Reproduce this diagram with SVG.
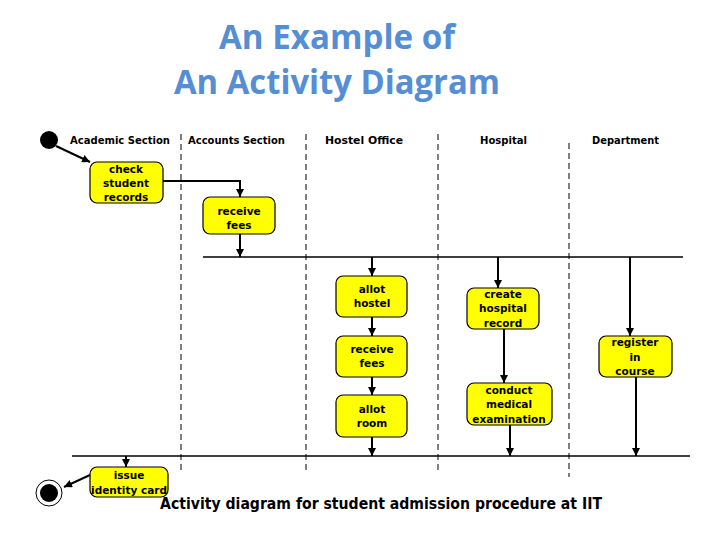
<svg xmlns="http://www.w3.org/2000/svg" width="720" height="540" viewBox="0 0 720 540">
<style>
.title{font-family:"Open Sans","Noto Sans",sans-serif;font-weight:bold;font-size:34px;fill:#558ED5;text-anchor:middle}
.lane{font-family:"DejaVu Sans","Noto Sans",sans-serif;font-weight:bold;font-size:10.5px;fill:#000}
.box{fill:#FFFF00;stroke:#000;stroke-width:1.2}
.bt{font-family:"DejaVu Sans","Noto Sans",sans-serif;font-weight:bold;font-size:10.5px;fill:#000;text-anchor:middle}
.div{stroke:#000;stroke-width:1;stroke-dasharray:6,4;fill:none}
.c{stroke:#000;stroke-width:2;fill:none;marker-end:url(#ah)}
.bar{stroke:#000;stroke-width:1.5}
.cap{font-family:"DejaVu Sans","Noto Sans",sans-serif;font-weight:bold;font-size:15px;fill:#000}
</style>
<defs>
<marker id="ah" viewBox="0 0 10 10" refX="10" refY="5" markerWidth="4" markerHeight="4" orient="auto" markerUnits="strokeWidth">
<path d="M0,0 L10,5 L0,10 z" fill="#000"/>
</marker>
</defs>
<rect width="720" height="540" fill="#fff"/>
<text class="title" x="337" y="49" textLength="236" lengthAdjust="spacingAndGlyphs">An Example of</text>
<text class="title" x="337" y="94" textLength="326" lengthAdjust="spacingAndGlyphs">An Activity Diagram</text>

<g id="lanes">
<line class="div" x1="181" y1="134" x2="181" y2="470"/>
<line class="div" x1="306" y1="134" x2="306" y2="470"/>
<line class="div" x1="438" y1="134" x2="438" y2="470"/>
<line class="div" x1="569" y1="143" x2="569" y2="477"/>
<text class="lane" x="70" y="144" textLength="100" lengthAdjust="spacingAndGlyphs">Academic Section</text>
<text class="lane" x="188" y="144" textLength="97" lengthAdjust="spacingAndGlyphs">Accounts Section</text>
<text class="lane" x="325" y="144" textLength="78" lengthAdjust="spacingAndGlyphs">Hostel Office</text>
<text class="lane" x="480" y="144" textLength="47" lengthAdjust="spacingAndGlyphs">Hospital</text>
<text class="lane" x="592" y="144" textLength="67" lengthAdjust="spacingAndGlyphs">Department</text>
</g>

<g id="bars">
<line class="bar" x1="203" y1="257" x2="683" y2="257"/>
<line class="bar" x1="72" y1="456" x2="690" y2="456"/>
</g>

<g id="start"><circle cx="49" cy="140" r="9" fill="#000"/></g>
<g id="end">
<circle cx="49" cy="493" r="13" fill="#fff" stroke="#000" stroke-width="1"/>
<circle cx="49" cy="493" r="9" fill="#000"/>
</g>

<g id="n-check">
<rect class="box" x="90" y="162" width="73" height="41" rx="7"/>
<text class="bt" x="126" y="173">check</text>
<text class="bt" x="126" y="187">student</text>
<text class="bt" x="126" y="201">records</text>
</g>
<g id="n-recv1">
<rect class="box" x="203" y="197" width="72" height="37" rx="7"/>
<text class="bt" x="239" y="215">receive</text>
<text class="bt" x="239" y="229">fees</text>
</g>
<g id="n-allothostel">
<rect class="box" x="336" y="276" width="71" height="41" rx="7"/>
<text class="bt" x="372" y="293">allot</text>
<text class="bt" x="372" y="307">hostel</text>
</g>
<g id="n-recv2">
<rect class="box" x="336" y="336" width="71" height="41" rx="7"/>
<text class="bt" x="372" y="353">receive</text>
<text class="bt" x="372" y="367">fees</text>
</g>
<g id="n-allotroom">
<rect class="box" x="336" y="395" width="71" height="42" rx="7"/>
<text class="bt" x="372" y="413">allot</text>
<text class="bt" x="372" y="427">room</text>
</g>
<g id="n-hosprec">
<rect class="box" x="467" y="288" width="72" height="41" rx="7"/>
<text class="bt" x="503" y="298">create</text>
<text class="bt" x="503" y="312">hospital</text>
<text class="bt" x="503" y="327">record</text>
</g>
<g id="n-medical">
<rect class="box" x="467" y="383" width="85" height="42" rx="7"/>
<text class="bt" x="509" y="394">conduct</text>
<text class="bt" x="509" y="408">medical</text>
<text class="bt" x="509" y="423">examination</text>
</g>
<g id="n-register">
<rect class="box" x="599" y="336" width="73" height="41" rx="7"/>
<text class="bt" x="635" y="346">register</text>
<text class="bt" x="635" y="361">in</text>
<text class="bt" x="635" y="375">course</text>
</g>
<g id="n-issue">
<rect class="box" x="90" y="467" width="78" height="30" rx="7"/>
<text class="bt" x="129" y="479">issue</text>
<text class="bt" x="129" y="494">identity card</text>
</g>

<g id="connectors">
<path class="c" d="M56,146 L90,162"/>
<path class="c" d="M163,181 L240,181 L240,197"/>
<path class="c" d="M240,234 L240,257"/>
<path class="c" d="M372,257 L372,276"/>
<path class="c" d="M498,257 L498,288"/>
<path class="c" d="M630,257 L630,336"/>
<path class="c" d="M372,317 L372,336"/>
<path class="c" d="M372,377 L372,395"/>
<path class="c" d="M372,437 L372,456"/>
<path class="c" d="M504,329 L504,383"/>
<path class="c" d="M510,425 L510,456"/>
<path class="c" d="M636,377 L636,456"/>
<path class="c" d="M126,456 L126,467"/>
<path class="c" d="M90,475 L64,487"/>
</g>

<text class="cap" x="160" y="509" textLength="442" lengthAdjust="spacingAndGlyphs">Activity diagram for student admission procedure at IIT</text>
</svg>
